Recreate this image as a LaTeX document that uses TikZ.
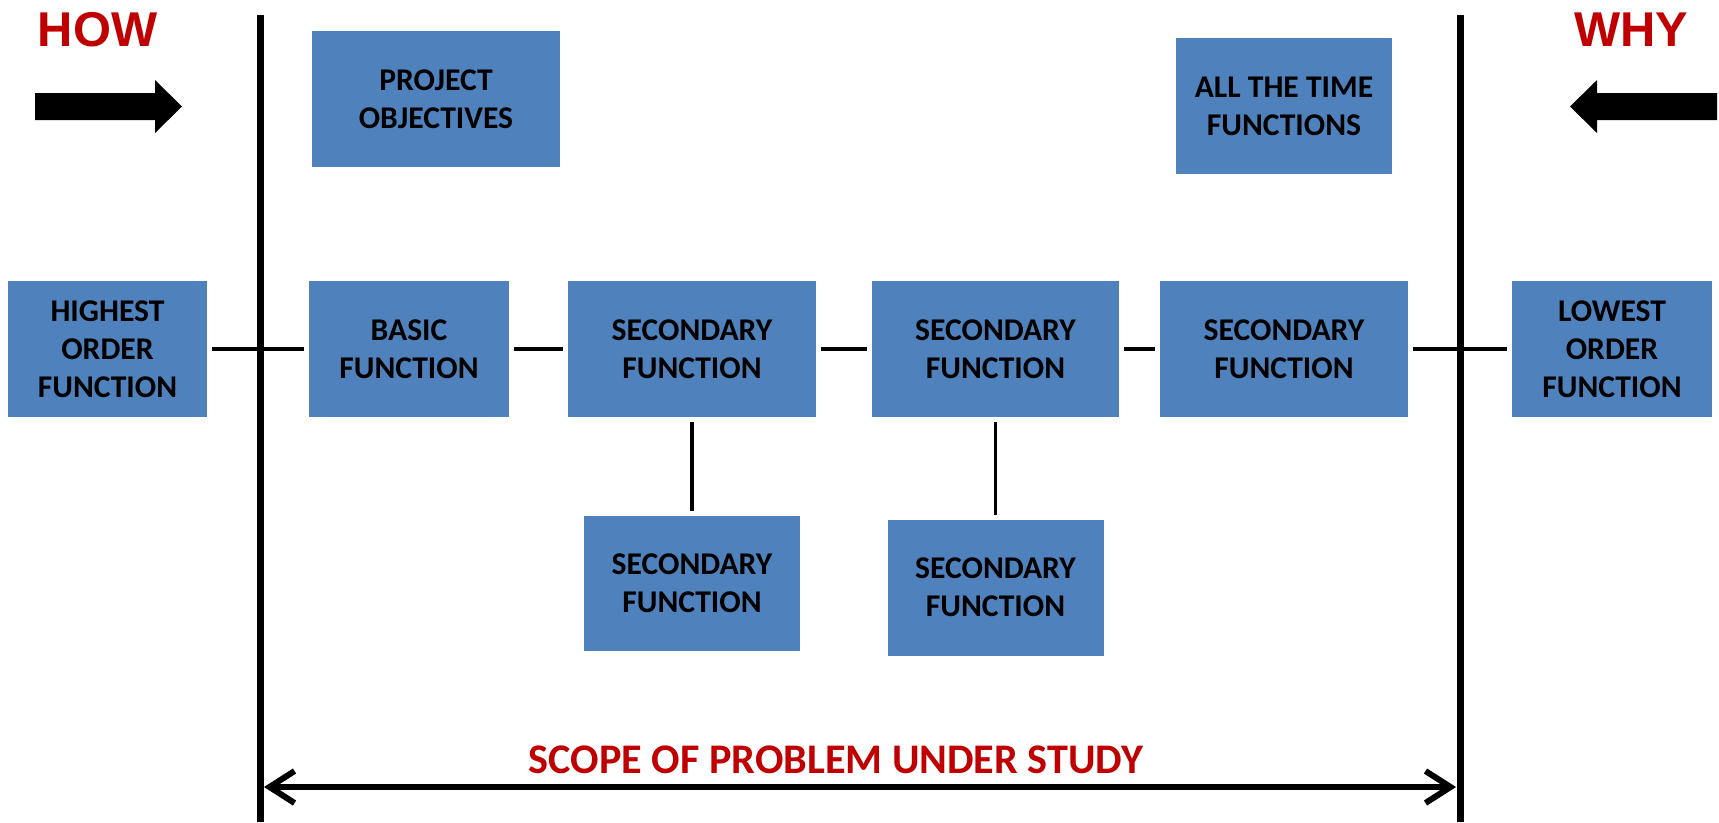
\documentclass[tikz,border=0pt]{standalone}
\usepackage{fontspec}
\setmainfont{Carlito}
\newfontfamily\arialfont{Liberation Sans}
\usetikzlibrary{arrows.meta,positioning}
\definecolor{boxblue}{HTML}{4F81BD}
\definecolor{darkred}{HTML}{C00000}

\begin{document}
\begin{tikzpicture}[
  func/.style={rectangle, fill=boxblue, minimum height=2.72cm, inner sep=0pt, align=center,
    font=\bfseries\fontsize{18}{21.6}\selectfont},
  link/.style={line width=2pt, shorten >=0.09cm, shorten <=0.09cm},
  scopeline/.style={line width=4pt},
  headword/.style={text=darkred, inner sep=0pt, font=\arialfont\bfseries\fontsize{27.8}{30}\selectfont}
]
\useasboundingbox (0,0) rectangle (34.38,-16.44);

% HOW / WHY
\node[headword] (how) at (1.95,-0.59) {HOW};
\node[headword] (why) at (32.62,-0.59) {WHY};
\fill (0.7,-1.86) -- (3.1,-1.86) -- (3.1,-1.6) -- (3.64,-2.13) -- (3.1,-2.66) -- (3.1,-2.4) -- (0.7,-2.4) -- cycle;
\fill (34.34,-1.86) -- (31.94,-1.86) -- (31.94,-1.6) -- (31.4,-2.13) -- (31.94,-2.66) -- (31.94,-2.4) -- (34.34,-2.4) -- cycle;

% 范围边界
\coordinate (ltop) at (5.21,-0.3);
\coordinate (lbot) at (5.21,-16.44);
\coordinate (rtop) at (29.2,-0.3);
\coordinate (rbot) at (29.2,-16.44);
\draw[scopeline] (ltop) -- (lbot);
\draw[scopeline] (rtop) -- (rbot);

% 主线
\node[func, minimum width=3.98cm] (high) at (2.15,-6.98) {HIGHEST\\ORDER\\FUNCTION};
\node[func, minimum width=4cm] (basic) at (8.18,-6.98) {BASIC\\FUNCTION};
\node[func, minimum width=4.96cm] (sec1) at (13.84,-6.98) {SECONDARY\\FUNCTION};
\node[func, minimum width=4.94cm] (sec2) at (19.91,-6.98) {SECONDARY\\FUNCTION};
\node[func, minimum width=4.96cm] (sec3) at (25.68,-6.98) {SECONDARY\\FUNCTION};
\node[func, minimum width=4cm] (low) at (32.24,-6.98) {LOWEST\\ORDER\\FUNCTION};

% 上方
\node[func, minimum width=4.96cm] (proj) at (8.72,-1.98) {PROJECT\\OBJECTIVES};
\node[func, minimum width=4.32cm, above=2.12cm of sec3] (allt) {ALL THE TIME\\FUNCTIONS};

% 下方
\node[func, minimum width=4.32cm, minimum height=2.7cm, below=1.96cm of sec1] (sub1) {SECONDARY\\FUNCTION};
\node[func, minimum width=4.32cm, below=2.04cm of sec2] (sub2) {SECONDARY\\FUNCTION};

% 连接线
\draw[link] (high) -- (basic);
\draw[link] (basic) -- (sec1);
\draw[link] (sec1) -- (sec2);
\draw[link] (sec2) -- (sec3);
\draw[link] (sec3) -- (low);
\draw[link] (sec1) -- (sub1);
\draw[link] (sec2) -- (sub2);

% 研究范围
\coordinate (sl) at (5.28,-15.74);
\coordinate (sr) at (29.12,-15.74);
\draw[line width=3.4pt, {Straight Barb[length=5mm,width=6.4mm]}-{Straight Barb[length=5mm,width=6.4mm]}] (sl) -- (sr);
\node[text=darkred, inner sep=0pt, font=\bfseries\fontsize{24}{27}\selectfont] (scope) at (16.72,-15.2) {SCOPE OF PROBLEM UNDER STUDY};
\end{tikzpicture}
\end{document}
